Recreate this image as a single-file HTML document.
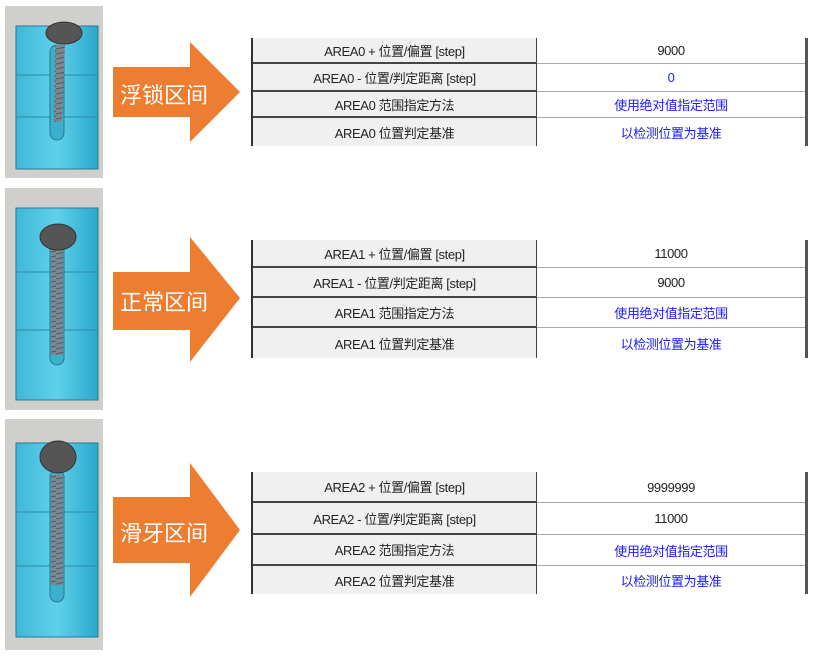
<!DOCTYPE html>
<html><head><meta charset="utf-8"><style>
body{margin:0;width:822px;height:659px;background:#fff;position:relative;overflow:hidden;font-family:"Liberation Sans","Noto Sans CJK SC",sans-serif}
.t{position:absolute;left:251px;width:557px;border-left:2px solid #333;border-right:3px solid #555;box-sizing:border-box}
.r{display:flex;box-sizing:border-box;font-size:13px;letter-spacing:-0.4px}
.a{width:284px;background:#f0f0f0;border-right:1px solid #444;border-bottom:2px solid #444;display:flex;align-items:center;justify-content:center;color:#222;box-sizing:border-box}
.b{flex:1;display:flex;align-items:center;justify-content:center;color:#222;border-bottom:1px solid #aaa;box-sizing:border-box}
.r:last-child .a,.r:last-child .b{border-bottom:none}
.bl{color:#1a1aff}
.lbl{position:absolute;left:120px;color:#fff;font-size:22px;font-family:"Noto Sans CJK SC",sans-serif}
</style></head><body>
<svg width="822" height="659" style="position:absolute;left:0;top:0">
<defs><linearGradient id="g" x1="0" x2="1"><stop offset="0" stop-color="#3fb8d8"/><stop offset="0.5" stop-color="#5fd0ea"/><stop offset="1" stop-color="#2aa8cc"/></linearGradient>
<pattern id="th" width="14" height="5" patternUnits="userSpaceOnUse"><rect width="14" height="5" fill="#7a8a90"/><line x1="0" y1="4" x2="14" y2="1" stroke="#556" stroke-width="1"/></pattern></defs>
<rect x="5" y="6" width="98" height="172" fill="#cfcfcc"/>
<rect x="16" y="26" width="82" height="143" fill="url(#g)" stroke="#2a7a90"/>
<line x1="16" y1="75" x2="98" y2="75" stroke="#2a8aa5"/><line x1="16" y1="117" x2="98" y2="117" stroke="#2a8aa5"/>
<rect x="50" y="45" width="14" height="95" rx="7" fill="#3ab0cc" stroke="#2a7a90"/>
<polygon points="55,45 65,45 62,122 54,122" fill="url(#th)"/>
<ellipse cx="64" cy="33" rx="18" ry="11" fill="#555" stroke="#333"/>
<rect x="5" y="188" width="98" height="222" fill="#cfcfcc"/>
<rect x="16" y="208" width="82" height="192" fill="url(#g)" stroke="#2a7a90"/>
<line x1="16" y1="272" x2="98" y2="272" stroke="#2a8aa5"/><line x1="16" y1="330" x2="98" y2="330" stroke="#2a8aa5"/>
<rect x="50" y="240" width="14" height="125" rx="7" fill="#3ab0cc" stroke="#2a7a90"/>
<rect x="51" y="245" width="12" height="110" fill="url(#th)"/>
<ellipse cx="58" cy="237" rx="18" ry="13" fill="#555" stroke="#333"/>
<rect x="5" y="419" width="98" height="231" fill="#cfcfcc"/>
<rect x="16" y="443" width="82" height="194" fill="url(#g)" stroke="#2a7a90"/>
<line x1="16" y1="512" x2="98" y2="512" stroke="#2a8aa5"/><line x1="16" y1="566" x2="98" y2="566" stroke="#2a8aa5"/>
<rect x="50" y="470" width="14" height="132" rx="7" fill="#3ab0cc" stroke="#2a7a90"/>
<rect x="51" y="475" width="12" height="110" fill="url(#th)"/>
<ellipse cx="58" cy="457" rx="18" ry="16" fill="#555" stroke="#333"/>
<polygon points="113,67 190,67 190,42 240,92 190,142 190,117 113,117" fill="#ed7d31"/>
<polygon points="113,272 190,272 190,237 240,298 190,362 190,330 113,330" fill="#ed7d31"/>
<polygon points="113,497 190,497 190,463 240,530 190,597 190,563 113,563" fill="#ed7d31"/>
</svg>
<div class="lbl" style="top:78px">浮锁区间</div>
<div class="lbl" style="top:285px">正常区间</div>
<div class="lbl" style="top:516px">滑牙区间</div>
<div class="t" style="top:38px">
<div class="r" style="height:26px"><div class="a">AREA0 + 位置/偏置 [step]</div><div class="b">9000</div></div>
<div class="r" style="height:28px"><div class="a">AREA0 - 位置/判定距离 [step]</div><div class="b bl">0</div></div>
<div class="r" style="height:26px"><div class="a">AREA0 范围指定方法</div><div class="b bl">使用绝对值指定范围</div></div>
<div class="r" style="height:28px"><div class="a">AREA0 位置判定基准</div><div class="b bl">以检测位置为基准</div></div>
</div>
<div class="t" style="top:240px">
<div class="r" style="height:28px"><div class="a">AREA1 + 位置/偏置 [step]</div><div class="b">11000</div></div>
<div class="r" style="height:30px"><div class="a">AREA1 - 位置/判定距离 [step]</div><div class="b">9000</div></div>
<div class="r" style="height:30px"><div class="a">AREA1 范围指定方法</div><div class="b bl">使用绝对值指定范围</div></div>
<div class="r" style="height:30px"><div class="a">AREA1 位置判定基准</div><div class="b bl">以检测位置为基准</div></div>
</div>
<div class="t" style="top:472px">
<div class="r" style="height:31px"><div class="a">AREA2 + 位置/偏置 [step]</div><div class="b">9999999</div></div>
<div class="r" style="height:32px"><div class="a">AREA2 - 位置/判定距离 [step]</div><div class="b">11000</div></div>
<div class="r" style="height:31px"><div class="a">AREA2 范围指定方法</div><div class="b bl">使用绝对值指定范围</div></div>
<div class="r" style="height:28px"><div class="a">AREA2 位置判定基准</div><div class="b bl">以检测位置为基准</div></div>
</div>
</body></html>
